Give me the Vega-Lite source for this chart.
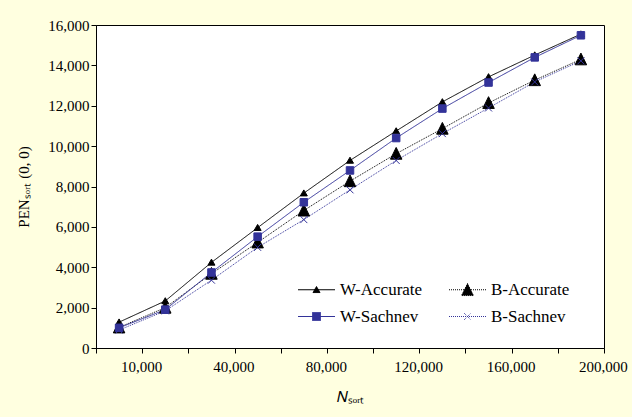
{
  "$schema": "https://vega.github.io/schema/vega-lite/v6.json",
  "width": 508,
  "height": 323,
  "autosize": {"type": "none"},
  "padding": {"left": 96, "top": 25, "right": 28, "bottom": 69},
  "background": "#FFFFE0",
  "config": {
    "view": {"fill": "white", "stroke": "black", "strokeWidth": 1},
    "font": "Liberation Serif",
    "axis": {
      "labelFont": "Liberation Serif", "titleFont": "Liberation Serif",
      "labelFontSize": 15, "titleFontSize": 15,
      "labelColor": "black", "titleColor": "black", "titleFontWeight": "normal",
      "domainColor": "black", "tickColor": "black", "grid": false, "tickSize": 5
    }
  },
  "data": {
    "values": [
      {"N": 10000, "series": "W-Accurate", "value": 1280},
      {"N": 20000, "series": "W-Accurate", "value": 2330},
      {"N": 40000, "series": "W-Accurate", "value": 4240},
      {"N": 60000, "series": "W-Accurate", "value": 5960},
      {"N": 80000, "series": "W-Accurate", "value": 7670},
      {"N": 100000, "series": "W-Accurate", "value": 9290},
      {"N": 120000, "series": "W-Accurate", "value": 10750},
      {"N": 140000, "series": "W-Accurate", "value": 12190},
      {"N": 160000, "series": "W-Accurate", "value": 13430},
      {"N": 180000, "series": "W-Accurate", "value": 14510},
      {"N": 200000, "series": "W-Accurate", "value": 15550},
      {"N": 10000, "series": "B-Accurate", "value": 1020},
      {"N": 20000, "series": "B-Accurate", "value": 2000},
      {"N": 40000, "series": "B-Accurate", "value": 3680},
      {"N": 60000, "series": "B-Accurate", "value": 5230},
      {"N": 80000, "series": "B-Accurate", "value": 6810},
      {"N": 100000, "series": "B-Accurate", "value": 8265},
      {"N": 120000, "series": "B-Accurate", "value": 9625},
      {"N": 140000, "series": "B-Accurate", "value": 10865},
      {"N": 160000, "series": "B-Accurate", "value": 12140},
      {"N": 180000, "series": "B-Accurate", "value": 13270},
      {"N": 200000, "series": "B-Accurate", "value": 14300},
      {"N": 10000, "series": "W-Sachnev", "value": 1000},
      {"N": 20000, "series": "W-Sachnev", "value": 1900},
      {"N": 40000, "series": "W-Sachnev", "value": 3740},
      {"N": 60000, "series": "W-Sachnev", "value": 5515},
      {"N": 80000, "series": "W-Sachnev", "value": 7220},
      {"N": 100000, "series": "W-Sachnev", "value": 8795},
      {"N": 120000, "series": "W-Sachnev", "value": 10400},
      {"N": 140000, "series": "W-Sachnev", "value": 11860},
      {"N": 160000, "series": "W-Sachnev", "value": 13150},
      {"N": 180000, "series": "W-Sachnev", "value": 14395},
      {"N": 200000, "series": "W-Sachnev", "value": 15490},
      {"N": 10000, "series": "B-Sachnev", "value": 890},
      {"N": 20000, "series": "B-Sachnev", "value": 1840},
      {"N": 40000, "series": "B-Sachnev", "value": 3360},
      {"N": 60000, "series": "B-Sachnev", "value": 4985},
      {"N": 80000, "series": "B-Sachnev", "value": 6360},
      {"N": 100000, "series": "B-Sachnev", "value": 7835},
      {"N": 120000, "series": "B-Sachnev", "value": 9290},
      {"N": 140000, "series": "B-Sachnev", "value": 10620},
      {"N": 160000, "series": "B-Sachnev", "value": 11890},
      {"N": 180000, "series": "B-Sachnev", "value": 13180},
      {"N": 200000, "series": "B-Sachnev", "value": 14225}
    ]
  },
  "encoding": {
    "x": {
      "field": "N", "type": "ordinal",
      "scale": {"type": "band", "paddingInner": 0, "paddingOuter": 0},
      "axis": {
        "title": "𝑁ₛₒᵣₜ", "labelAngle": 0, "tickBand": "extent", "labelOffset": 22,
        "labelPadding": 6, "titlePadding": 15,
        "labelExpr": "indexof([10000,40000,80000,120000,160000,200000], datum.value) >= 0 ? format(datum.value, ',') : ''"
      }
    },
    "y": {
      "field": "value", "type": "quantitative",
      "scale": {"domain": [0, 16000]},
      "axis": {
        "values": [0, 2000, 4000, 6000, 8000, 10000, 12000, 14000, 16000],
        "format": ",.0f", "title": "PENₛₒᵣₜ (0, 0)", "labelPadding": 2, "titlePadding": 16
      }
    }
  },
  "layer": [
    {
      "mark": {"type": "line", "strokeWidth": 1},
      "encoding": {
        "color": {
          "field": "series", "type": "nominal",
          "scale": {"domain": ["W-Accurate", "W-Sachnev", "B-Accurate", "B-Sachnev"], "range": ["black", "#333399", "black", "#333399"]},
          "legend": {
            "title": null, "orient": "none", "legendX": 210, "legendY": 254,
            "columns": 2, "symbolSize": 400, "labelOffset": 13, "columnPadding": 24, "rowPadding": 8,
            "labelFont": "Liberation Serif", "labelFontSize": 17, "labelColor": "black", "padding": 0,
            "encode": {
              "symbols": {
                "update": {
                  "shape": {"signal": "datum.value === 'W-Accurate' ? 'M-1.85,0H1.85M0,-0.32L0.35,0.28L-0.35,0.28Z' : datum.value === 'B-Accurate' ? 'M-1.85,0H1.85M0,-0.62L0.6,0.58L-0.6,0.58Z' : datum.value === 'W-Sachnev' ? 'M-1.85,0H1.85M-0.4,-0.4H0.4V0.4H-0.4Z' : 'M-1.85,0H1.85M-0.35,-0.35L0.35,0.35M-0.35,0.35L0.35,-0.35'"},
                  "fill": {"signal": "datum.value === 'B-Sachnev' ? 'transparent' : (datum.value === 'W-Sachnev' ? '#333399' : 'black')"},
                  "stroke": {"signal": "(datum.value === 'B-Sachnev' || datum.value === 'W-Sachnev') ? '#333399' : 'black'"},
                  "strokeDash": {"signal": "(datum.value === 'B-Sachnev' || datum.value === 'B-Accurate') ? [1, 1] : [1, 0]"},
                  "strokeWidth": {"value": 1},
                  "opacity": {"value": 1}
                }
              }
            }
          }
        },
        "strokeDash": {
          "field": "series", "type": "nominal",
          "scale": {"domain": ["W-Accurate", "W-Sachnev", "B-Accurate", "B-Sachnev"], "range": [[1, 0], [1, 0], [1, 1], [1, 1]]},
          "legend": null
        }
      }
    },
    {
      "transform": [{"filter": "datum.series === 'W-Accurate'"}],
      "mark": {"type": "point", "shape": "M0,-0.65L0.7,0.55L-0.7,0.55Z", "filled": true, "fill": "black", "stroke": "black", "size": 100, "opacity": 1, "strokeWidth": 1}
    },
    {
      "transform": [{"filter": "datum.series === 'B-Accurate'"}],
      "mark": {"type": "point", "shape": "M0,-1.25L1.15,1.1L-1.15,1.1Z", "filled": true, "fill": "black", "stroke": "black", "size": 100, "opacity": 1, "strokeWidth": 1}
    },
    {
      "transform": [{"filter": "datum.series === 'W-Sachnev'"}],
      "mark": {"type": "point", "shape": "M-0.75,-0.75H0.75V0.75H-0.75Z", "filled": true, "fill": "#333399", "stroke": "#333399", "size": 100, "opacity": 1, "strokeWidth": 1}
    },
    {
      "transform": [{"filter": "datum.series === 'B-Sachnev'"}],
      "mark": {"type": "point", "shape": "M-0.7,-0.7L0.7,0.7M-0.7,0.7L0.7,-0.7", "filled": false, "stroke": "#333399", "size": 100, "opacity": 1, "strokeWidth": 1}
    }
  ]
}
